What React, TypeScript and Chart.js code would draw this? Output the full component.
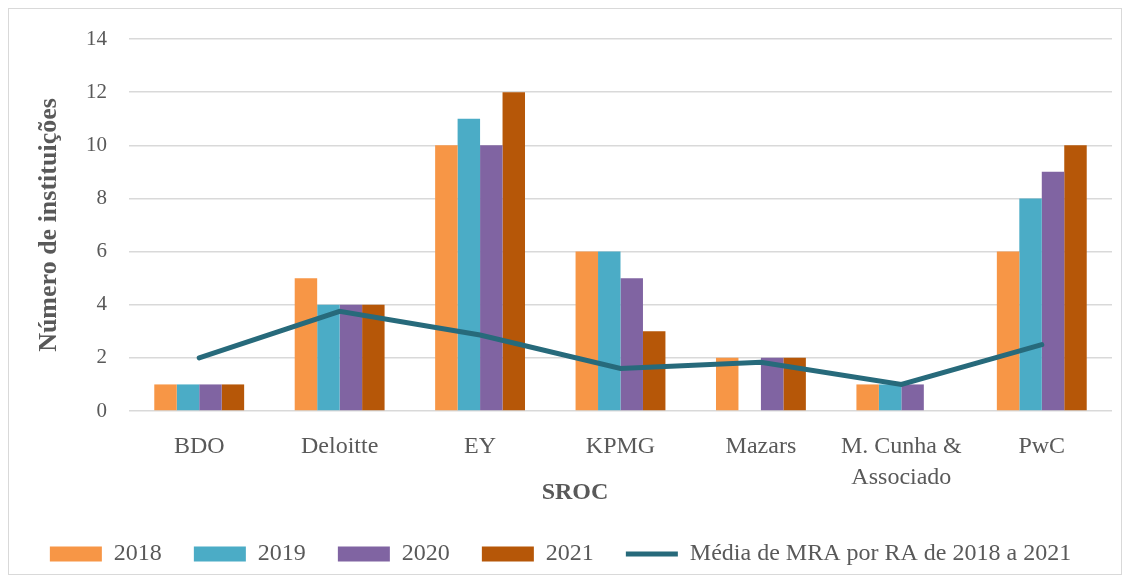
import React, { useEffect, useRef } from "react";
import { Chart, registerables } from "chart.js";

Chart.register(...registerables);

const categories: (string | string[])[] = [
  "BDO",
  "Deloitte",
  "EY",
  "KPMG",
  "Mazars",
  ["M. Cunha &", "Associado"],
  "PwC",
];
const values2018 = [1, 5, 10, 6, 2, 1, 6];
const values2019 = [1, 4, 11, 6, 0, 1, 8];
const values2020 = [1, 4, 10, 5, 2, 1, 9];
const values2021 = [1, 4, 12, 3, 2, 0, 10];
const mediaMRA = [2, 3.75, 2.86, 1.6, 1.83, 1.0, 2.5];
const yTicks = [0, 2, 4, 6, 8, 10, 12, 14];
const xTitle = "SROC";

const FONT = "'Liberation Serif', serif";
const TEXT = "#595959";

const xTitlePlugin = {
  id: "xTitlePlugin",
  afterDraw(chart: any) {
    const { ctx, chartArea, scales } = chart;
    const x = chartArea.left + chartArea.width * 0.4537;
    const y = scales.x.bottom - 17;
    ctx.save();
    ctx.font = `bold 24px ${FONT}`;
    ctx.fillStyle = TEXT;
    ctx.textAlign = "center";
    ctx.textBaseline = "middle";
    ctx.fillText(xTitle, x, y);
    ctx.restore();
  },
};

export default function App() {
  const ref = useRef<HTMLCanvasElement | null>(null);

  useEffect(() => {
    if (!ref.current) return;
    const chart = new Chart(ref.current, {
      type: "bar",
      data: {
        labels: categories,
        datasets: [
          { label: "2018", data: values2018, backgroundColor: "#F79646", order: 1, pointStyle: "rect" },
          { label: "2019", data: values2019, backgroundColor: "#4BACC6", order: 1, pointStyle: "rect" },
          { label: "2020", data: values2020, backgroundColor: "#8064A2", order: 1, pointStyle: "rect" },
          { label: "2021", data: values2021, backgroundColor: "#B65708", order: 1, pointStyle: "rect" },
          {
            type: "line",
            label: "Média de MRA por RA de 2018 a 2021",
            data: mediaMRA,
            borderColor: "#276A7B",
            backgroundColor: "#276A7B",
            borderWidth: 5,
            borderCapStyle: "round",
            borderJoinStyle: "miter",
            pointRadius: 0,
            pointHoverRadius: 0,
            tension: 0,
            order: 0,
            pointStyle: "line",
          } as any,
        ],
      },
      options: {
        animation: false,
        responsive: false,
        maintainAspectRatio: false,
        layout: { padding: { left: 0, right: 9, top: 30, bottom: -2 } },
        datasets: {
          bar: { categoryPercentage: 0.64, barPercentage: 1.0 },
        } as any,
        plugins: {
          tooltip: { enabled: false },
          legend: {
            position: "bottom",
            labels: {
              usePointStyle: true,
              pointStyleWidth: 52,
              boxHeight: 15,
              padding: 32,
              color: TEXT,
              font: { family: FONT, size: 24 },
              sort: (a: any, b: any) => a.datasetIndex - b.datasetIndex,
            },
          },
        },
        scales: {
          x: {
            grid: { display: false, drawTicks: false },
            border: { display: false },
            ticks: {
              color: TEXT,
              font: { family: FONT, size: 24, lineHeight: 1.29 },
              padding: 20,
              maxRotation: 0,
              autoSkip: false,
            },
            title: { display: false },
            afterFit: (scale: any) => {
              scale.height = 99;
            },
          },
          y: {
            min: 0,
            max: 14,
            afterBuildTicks: (scale: any) => {
              scale.ticks = yTicks.map((v) => ({ value: v }));
            },
            grid: { color: "#D9D9D9", lineWidth: 1.5, drawTicks: false },
            border: { display: false },
            ticks: {
              color: TEXT,
              font: { family: FONT, size: 21 },
              padding: 22,
            },
            title: {
              display: true,
              text: "Número de instituições",
              color: TEXT,
              font: { family: FONT, size: 26, weight: "bold" },
              padding: { top: 25, bottom: 0 },
            },
            afterFit: (scale: any) => {
              scale.width = 120;
              scale.paddingTop = 0;
              scale.paddingBottom = 0;
            },
          },
        },
      },
      plugins: [xTitlePlugin],
    });
    return () => chart.destroy();
  }, []);

  return (
    <div
      style={{
        width: 1114,
        height: 567,
        border: "1px solid #D9D9D9",
        boxSizing: "border-box",
        background: "#fff",
      }}
    >
      <canvas ref={ref} width={1112} height={565} style={{ display: "block", width: 1112, height: 565 }} />
    </div>
  );
}
